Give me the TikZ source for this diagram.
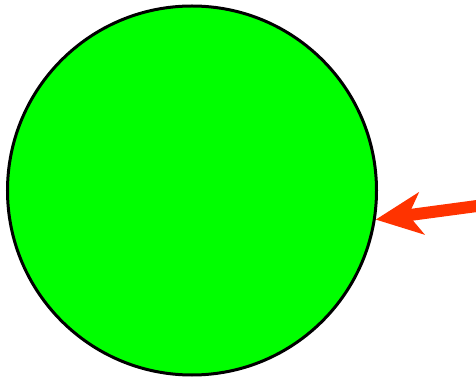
\documentclass[tikz,border=0pt]{standalone}
\usetikzlibrary{arrows.meta}
\definecolor{ballgreen}{HTML}{00FF00}
\definecolor{pointred}{HTML}{FF3300}
\begin{document}
\begin{tikzpicture}[x=1pt, y=-1pt,
    ball/.style={circle, draw=black, line width=3pt, fill=ballgreen, minimum size=369pt, inner sep=0pt},
    pointer/.style={draw=pointred, line width=12pt, -{Stealth[length=46pt, width=42pt, inset=13pt]}}]
    \useasboundingbox (0,0) rectangle (476,379);
    \node[ball] (ball) at (192,190.5) {};
    \coordinate (tail) at (477,206);
    \draw[pointer] (tail) -- (ball.-9.5);
\end{tikzpicture}
\end{document}
